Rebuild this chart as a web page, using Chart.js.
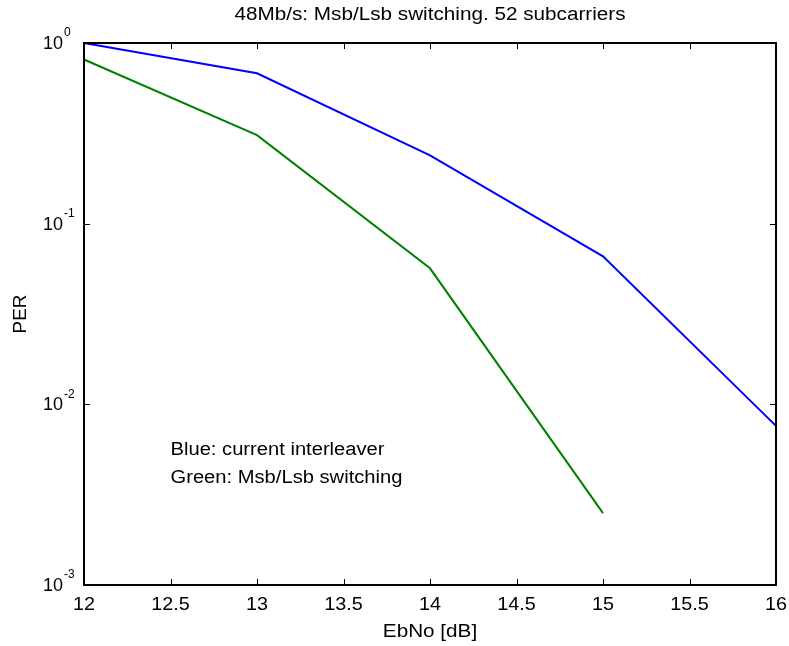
<!DOCTYPE html>
<html>
<head>
<meta charset="utf-8">
<script src="https://cdn.jsdelivr.net/npm/chart.js@4.4.1/dist/chart.umd.min.js"></script>
<style>
  html, body { margin: 0; padding: 0; background: #fff; }
</style>
</head>
<body>
<canvas id="perChart" width="789" height="646"></canvas>
<script>
// values
var ebno = [12, 13, 14, 15, 16];
var perBlue = [1.0, 0.68, 0.239, 0.066, 0.0076];
var perGreen = [0.81, 0.309, 0.0566, 0.0025];
var xTicks = [12, 12.5, 13, 13.5, 14, 14.5, 15, 15.5, 16];
var yTicks = [0.001, 0.01, 0.1, 1];
var yExps = ['-3', '-2', '-1', '0'];
var notes = ['Blue: current interleaver', 'Green: Msb/Lsb switching'];
var notePos = [[12.5, 0.0056], [12.5, 0.0039]];

var FAM = '"Liberation Sans", Arial, sans-serif';

function pts(xs, ys) {
    return ys.map(function (y, i) { return { x: xs[i], y: y }; });
}

// text a bit wider than Arial, like the old matlab export
function txt(ctx, s, x, y, size, sx, align) {
    ctx.save();
    ctx.translate(x, y);
    ctx.scale(sx || 1, 1);
    ctx.font = size + 'px ' + FAM;
    ctx.textAlign = align || 'center';
    ctx.textBaseline = 'middle';
    ctx.fillText(s, 0, 0);
    ctx.restore();
}

var matlabAxes = {
    id: 'matlabAxes',
    afterDraw: function (chart) {
        var ctx = chart.ctx, a = chart.chartArea;
        var xs = chart.scales.x, ys = chart.scales.y;
        var tl = 6;
        ctx.save();
        ctx.strokeStyle = '#000';
        ctx.fillStyle = '#000';
        ctx.lineWidth = 1;
        ctx.beginPath();
        xTicks.forEach(function (v) {
            var px = Math.round(xs.getPixelForValue(v)) + 0.5;
            ctx.moveTo(px, a.bottom); ctx.lineTo(px, a.bottom - tl);
            ctx.moveTo(px, a.top); ctx.lineTo(px, a.top + tl);
        });
        yTicks.forEach(function (v) {
            var py = Math.round(ys.getPixelForValue(v)) + 0.5;
            ctx.moveTo(a.left, py); ctx.lineTo(a.left + tl, py);
            ctx.moveTo(a.right, py); ctx.lineTo(a.right - tl, py);
        });
        ctx.stroke();

        ctx.lineWidth = 2;
        ctx.strokeRect(a.left, a.top, a.right - a.left, a.bottom - a.top);

        xTicks.forEach(function (v) {
            txt(ctx, String(v), xs.getPixelForValue(v), a.bottom + 20, 18, 1.1);
        });

        yTicks.forEach(function (v, i) {
            var py = ys.getPixelForValue(v);
            txt(ctx, '10', a.left - 21, py + 1, 18, 1, 'right');
            txt(ctx, yExps[i], a.left - 20, py - 10, 12, 1, 'left');
        });

        var cx = (a.left + a.right) / 2;
        txt(ctx, '48Mb/s: Msb/Lsb switching. 52 subcarriers', cx, 15, 18, 1.15);
        txt(ctx, 'EbNo [dB]', cx, a.bottom + 47, 18, 1.15);
        ctx.save();
        ctx.translate(21, (a.top + a.bottom) / 2);
        ctx.rotate(-Math.PI / 2);
        txt(ctx, 'PER', 0, 0, 18, 1.05);
        ctx.restore();

        notes.forEach(function (t, i) {
            txt(ctx, t, xs.getPixelForValue(notePos[i][0]), ys.getPixelForValue(notePos[i][1]), 18, 1.12, 'left');
        });
        ctx.restore();
    }
};

var perChart = new Chart(document.getElementById('perChart'), {
    type: 'scatter',
    data: {
        datasets: [{
            data: pts(ebno, perBlue),
            showLine: true,
            borderColor: '#0000ff',
            borderWidth: 2,
            pointRadius: 0,
            clip: false
        }, {
            data: pts(ebno, perGreen),
            showLine: true,
            borderColor: '#008000',
            borderWidth: 2,
            pointRadius: 0,
            clip: false
        }]
    },
    options: {
        responsive: false,
        devicePixelRatio: 1,
        animation: false,
        layout: { padding: { top: 43, right: 13, left: 0, bottom: 0 } },
        plugins: { legend: { display: false }, tooltip: { enabled: false }, title: { display: false } },
        scales: {
            x: {
                type: 'linear', min: 12, max: 16,
                grid: { display: false }, border: { display: false },
                ticks: { display: false },
                afterFit: function (s) { s.height = 61; }
            },
            y: {
                type: 'logarithmic', min: 0.001, max: 1,
                grid: { display: false }, border: { display: false },
                ticks: { display: false },
                afterFit: function (s) { s.width = 84; }
            }
        }
    },
    plugins: [matlabAxes]
});
</script>
</body>
</html>
